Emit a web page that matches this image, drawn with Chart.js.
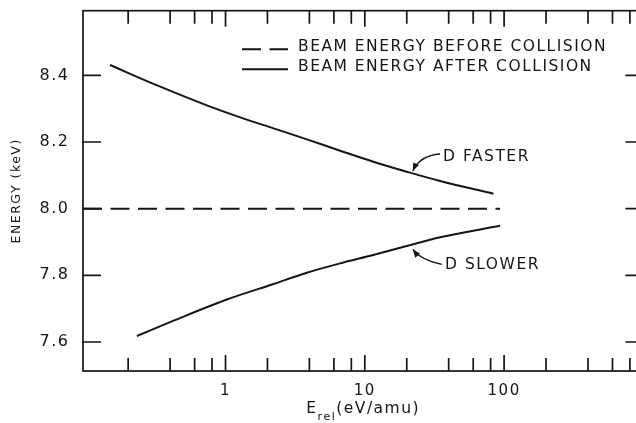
<!DOCTYPE html>
<html>
<head>
<meta charset="utf-8">
<style>
  html, body { margin: 0; padding: 0; background: #fff; overflow: hidden; width: 636px; height: 423px; }
  canvas { display: block; }
</style>
<script src="https://cdn.jsdelivr.net/npm/chart.js@4.4.1/dist/chart.umd.min.js"></script>
</head>
<body>
<canvas id="chart" width="660" height="423"></canvas>
<script>
// Relative collision energy E_rel (eV/amu) against beam energy (keV)
const fasterErel   = [0.148, 0.34, 0.735, 1.275, 2.21, 3.84, 6.65, 11.5, 20.0, 34.7, 83.8];
const fasterEnergy = [8.431, 8.366, 8.310, 8.274, 8.241, 8.208, 8.174, 8.141, 8.111, 8.083, 8.045];
const slowerErel   = [0.231, 0.424, 1.0, 2.21, 3.84, 6.65, 11.5, 20.0, 34.7, 93.6];
const slowerEnergy = [7.618, 7.664, 7.726, 7.774, 7.808, 7.836, 7.861, 7.888, 7.914, 7.949];
const beamErel     = [0.0948, 93.6];
const beamEnergy   = [8.0, 8.0];

const xTickValues = [0.2, 0.4, 0.6, 0.8, 1, 2, 4, 6, 8, 10, 20, 40, 60, 80, 100, 200, 400, 600, 800, 1000];
const xTickLabels = { 1: '1', 10: '10', 100: '100' };
const yTickValues = [7.6, 7.8, 8.0, 8.2, 8.4];
const legendLabels = ['BEAM ENERGY BEFORE COLLISION', 'BEAM ENERGY AFTER COLLISION'];
const curveNotes = ['D FASTER', 'D SLOWER'];
const yTitle = 'ENERGY (keV)';
const xTitle = { main: 'E', sub: 'rel', unit: '(eV/amu)' };

const ink = '#151515';
const family = '"DejaVu Sans", sans-serif';
Chart.defaults.font.family = family;
Chart.defaults.color = ink;

const toPoints = (xs, ys) => xs.map((x, i) => ({ x, y: ys[i] }));
const isDecade = v => Math.abs(Math.log10(v) - Math.round(Math.log10(v))) < 1e-9;

// Spaced lettering for all canvas text
const spacing = {
  id: 'spacing',
  beforeUpdate(chart) { chart.ctx.letterSpacing = '1.5px'; },
  beforeDraw(chart) { chart.ctx.letterSpacing = '1.5px'; }
};

// Boxed frame with inward ticks, inset legend, curve notes and the x title
const decorations = {
  id: 'decorations',
  afterDraw(chart) {
    const { ctx, chartArea: a, scales: { x, y } } = chart;
    ctx.save();
    ctx.letterSpacing = '1.5px';
    ctx.strokeStyle = ink;
    ctx.fillStyle = ink;
    ctx.lineWidth = 1.7;
    ctx.setLineDash([]);
    ctx.strokeRect(a.left, a.top, a.right - a.left, a.bottom - a.top);

    ctx.beginPath();
    x.ticks.forEach(t => {
      const px = x.getPixelForValue(t.value);
      const len = isDecade(t.value) ? 16 : 13;
      ctx.moveTo(px, a.bottom); ctx.lineTo(px, a.bottom - len);
      ctx.moveTo(px, a.top); ctx.lineTo(px, a.top + len);
    });
    y.ticks.forEach(t => {
      const py = y.getPixelForValue(t.value);
      ctx.moveTo(a.left, py); ctx.lineTo(a.left + 18, py);
      ctx.moveTo(a.right, py); ctx.lineTo(a.right - 18, py);
    });
    ctx.stroke();

    // legend inside the plot area
    ctx.font = '15.5px ' + family;
    ctx.textBaseline = 'alphabetic';
    ctx.textAlign = 'left';
    const lx = a.left + 159;
    [0, 1].forEach(i => {
      const ds = chart.data.datasets[i];
      const base = a.top + 40 + i * 20;
      ctx.save();
      ctx.lineWidth = ds.borderWidth;
      ctx.setLineDash(ds.borderDash || []);
      ctx.beginPath();
      ctx.moveTo(lx, base - 1.5);
      ctx.lineTo(lx + 46, base - 1.5);
      ctx.stroke();
      ctx.restore();
      ctx.fillText(ds.label, lx + 56, base);
    });

    // curve notes with curved arrows
    const notes = [
      { text: curveNotes[0], x: 22.1, y: 8.113, start: [27.3, -17], ctrl: [6.9, -15.5], label: [30.3, -14] },
      { text: curveNotes[1], x: 22.1, y: 7.878, start: [29, 15], ctrl: [8.3, 10.7], label: [32.3, 15.7] }
    ];
    notes.forEach(n => {
      const tx = x.getPixelForValue(n.x), ty = y.getPixelForValue(n.y);
      const sx = tx + n.start[0], sy = ty + n.start[1];
      const cx = tx + n.ctrl[0], cy = ty + n.ctrl[1];
      ctx.lineWidth = 1.3;
      ctx.beginPath();
      ctx.moveTo(sx, sy);
      ctx.quadraticCurveTo(cx, cy, tx, ty);
      ctx.stroke();
      const ang = Math.atan2(ty - cy, tx - cx);
      const hl = 8, hw = 3.2;
      ctx.beginPath();
      ctx.moveTo(tx, ty);
      ctx.lineTo(tx - hl * Math.cos(ang) + hw * Math.sin(ang), ty - hl * Math.sin(ang) - hw * Math.cos(ang));
      ctx.lineTo(tx - hl * Math.cos(ang) - hw * Math.sin(ang), ty - hl * Math.sin(ang) + hw * Math.cos(ang));
      ctx.closePath();
      ctx.fill();
      ctx.textBaseline = 'middle';
      ctx.fillText(n.text, tx + n.label[0], ty + n.label[1]);
    });

    // x title with subscript
    const big = '15.5px ' + family, small = '11px ' + family;
    ctx.textBaseline = 'alphabetic';
    ctx.font = big;
    const wMain = ctx.measureText(xTitle.main).width;
    const wUnit = ctx.measureText(xTitle.unit).width;
    ctx.font = small;
    const wSub = ctx.measureText(xTitle.sub).width;
    const total = wMain + wSub + wUnit;
    let px = (a.left + a.right) / 2 - total / 2;
    const base = a.bottom + 41.5;
    ctx.font = big; ctx.fillText(xTitle.main, px, base); px += wMain;
    ctx.font = small; ctx.fillText(xTitle.sub, px, base + 7); px += wSub;
    ctx.font = big; ctx.fillText(xTitle.unit, px, base);
    ctx.restore();
  }
};

new Chart(document.getElementById('chart'), {
  type: 'scatter',
  data: {
    datasets: [
      {
        label: legendLabels[0],
        data: toPoints(beamErel, beamEnergy),
        showLine: true, borderColor: ink, borderWidth: 2, borderDash: [19, 8.5],
        pointRadius: 0, fill: false
      },
      {
        label: legendLabels[1],
        data: toPoints(fasterErel, fasterEnergy),
        showLine: true, borderColor: ink, borderWidth: 2, cubicInterpolationMode: 'monotone',
        pointRadius: 0, fill: false
      },
      {
        label: curveNotes[1],
        data: toPoints(slowerErel, slowerEnergy),
        showLine: true, borderColor: ink, borderWidth: 2, cubicInterpolationMode: 'monotone',
        pointRadius: 0, fill: false
      }
    ]
  },
  options: {
    responsive: false,
    animation: false,
    events: [],
    layout: { padding: { top: 10.7, right: 16.6, left: 0, bottom: 0 } },
    plugins: { legend: { display: false }, tooltip: { enabled: false } },
    scales: {
      x: {
        type: 'logarithmic',
        bounds: 'data',
        min: 0.0948,
        max: 1000,
        afterBuildTicks: s => { s.ticks = xTickValues.map(v => ({ value: v })); },
        afterFit: s => { s.height = 52; s.paddingLeft = 0; s.paddingRight = 0; },
        grid: { display: false, drawTicks: false },
        border: { display: false },
        ticks: {
          autoSkip: false, maxRotation: 0, minRotation: 0, padding: 11, color: ink,
          font: { size: 15 },
          callback: v => xTickLabels[v] ?? ''
        }
      },
      y: {
        type: 'linear',
        bounds: 'data',
        min: 7.513,
        max: 8.594,
        afterBuildTicks: s => { s.ticks = yTickValues.map(v => ({ value: v })); },
        afterFit: s => { s.width = 83; s.paddingTop = 0; s.paddingBottom = 0; },
        grid: { display: false, drawTicks: false },
        border: { display: false },
        ticks: {
          padding: 13.5, color: ink,
          font: { size: 16 },
          callback: v => Number(v).toFixed(1)
        },
        title: {
          display: true, text: yTitle, color: ink,
          font: { size: 12.5 },
          padding: { top: 9.5, bottom: 0 }
        }
      }
    }
  },
  plugins: [spacing, decorations]
});
</script>
</body>
</html>
